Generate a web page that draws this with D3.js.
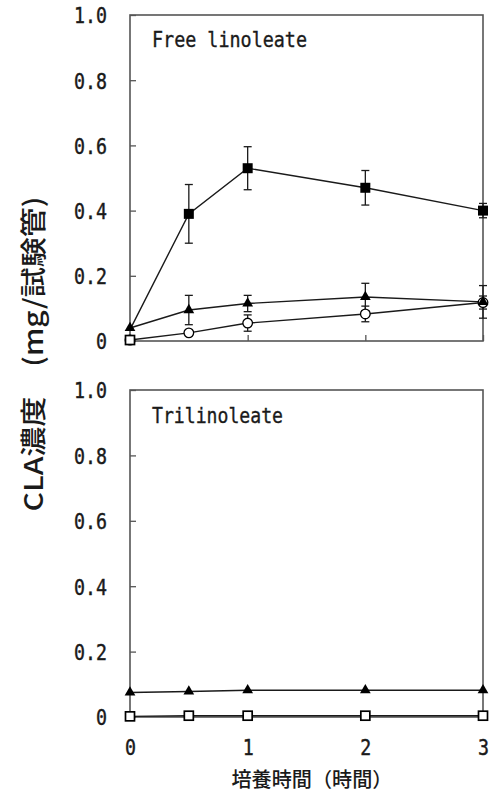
<!DOCTYPE html>
<html><head><meta charset="utf-8">
<script src="https://cdn.jsdelivr.net/npm/d3@7"></script>
<style>html,body{margin:0;padding:0;background:#fff;}svg{display:block;}</style>
</head><body>
<svg id="c" width="492" height="793"></svg>
<script>
// ---- data ----
const times = [0, 0.5, 1, 2, 3];
const xTicks = [0, 1, 2, 3];
const yTicks = [0, 0.2, 0.4, 0.6, 0.8, 1.0];
const yTickLabels = ["0", "0.2", "0.4", "0.6", "0.8", "1.0"];

// Free linoleate panel
const freeSquare = [0.035, 0.39, 0.53, 0.47, 0.40];
const freeSquareErr = [0, 0.09, 0.066, 0.053, 0.022];
const freeSquareMarkerShown = [false, true, true, true, true];
const freeTriangle = [0.04, 0.095, 0.115, 0.135, 0.12];
const freeTriangleErr = [0, 0.045, 0.025, 0.042, 0.05];
const freeCircle = [0.003, 0.025, 0.055, 0.083, 0.118];
const freeCircleErr = [0, 0, 0.025, 0.024, 0.02];
const freeOpenSquareTimes = [0];
const freeOpenSquare = [0.003];

// Trilinoleate panel
const triTriangle = [0.075, 0.078, 0.082, 0.082, 0.082];
const triOpenSquare = [0.002, 0.004, 0.004, 0.004, 0.004];

const panelTitles = ["Free linoleate", "Trilinoleate"];
const yTitle = "CLA濃度\u3000(mg/試験管)";
const xTitle = "培養時間（時間）";

// ---- layout ----
const svg = d3.select("#c");
const x = d3.scaleLinear().domain([0, 3]).range([130, 483]);
const panels = [
  {y: d3.scaleLinear().domain([0, 1]).range([341, 15]), title: panelTitles[0], tx: 152, ty: 47, tl: 155, labels: false},
  {y: d3.scaleLinear().domain([0, 1]).range([717, 390]), title: panelTitles[1], tx: 152, ty: 423, tl: 131, labels: true}
];
const monoFont = "'DejaVu Sans Mono', 'Liberation Mono', monospace";
const cjkFont = "'Noto Sans CJK JP', 'Noto Sans', sans-serif";
const ink = "#1a1a1a";
const frame = "#555";

function styleMono(sel, size, w) {
  sel.attr("font-family", monoFont).attr("font-size", size).attr("fill", ink)
    .attr("stroke", ink).attr("stroke-width", 0.45)
    .attr("textLength", function() { return this.textContent.length ? this.textContent.length * w : null; })
    .attr("lengthAdjust", "spacingAndGlyphs");
}

function drawAxes(p) {
  const g = svg.append("g");
  const ya = g.append("g").attr("transform", `translate(${x.range()[0]},0)`)
    .call(d3.axisLeft(p.y).tickValues(yTicks).tickSizeInner(-6).tickSizeOuter(0).tickPadding(23)
      .tickFormat((d, i) => yTickLabels[i]));
  ya.select(".domain").remove();
  ya.selectAll(".tick line").attr("stroke", frame).attr("stroke-width", 1.3);
  styleMono(ya.selectAll(".tick text").attr("dy", "0.36em"), 22, 11);
  const xa = g.append("g").attr("transform", `translate(0,${p.y.range()[0]})`)
    .call(d3.axisBottom(x).tickValues(xTicks).tickSizeInner(-6).tickSizeOuter(0)
      .tickFormat(p.labels ? d3.format("d") : () => ""));
  xa.select(".domain").remove();
  xa.selectAll(".tick line").attr("stroke", frame).attr("stroke-width", 1.3);
  styleMono(xa.selectAll(".tick text").attr("y", 38).attr("dy", "0"), 22, 11);
  g.append("rect")
    .attr("x", x.range()[0]).attr("y", p.y.range()[1])
    .attr("width", x.range()[1] - x.range()[0])
    .attr("height", p.y.range()[0] - p.y.range()[1])
    .attr("fill", "none").attr("stroke", frame).attr("stroke-width", 1.6);
  svg.append("text").attr("x", p.tx).attr("y", p.ty)
    .attr("font-family", monoFont).attr("font-size", 21).attr("fill", ink)
    .attr("stroke", ink).attr("stroke-width", 0.35)
    .attr("textLength", p.tl).attr("lengthAdjust", "spacingAndGlyphs")
    .text(p.title);
}

function series(ts, vals) { return ts.map((t, i) => ({t, v: vals[i]})); }

function drawLine(p, data) {
  svg.append("path").datum(data)
    .attr("d", d3.line().x(d => x(d.t)).y(d => p.y(d.v)))
    .attr("fill", "none").attr("stroke", ink).attr("stroke-width", 1.4);
}

function drawErr(p, ts, vals, errs) {
  const d = ts.map((t, i) => ({t, v: vals[i], e: errs[i]})).filter(o => o.e > 0);
  const g = svg.append("g").attr("stroke", ink).attr("stroke-width", 1.3);
  g.selectAll("line.v").data(d).join("line").attr("class", "v")
    .attr("x1", o => x(o.t)).attr("x2", o => x(o.t))
    .attr("y1", o => p.y(o.v - o.e)).attr("y2", o => p.y(o.v + o.e));
  [-1, 1].forEach(s => {
    g.selectAll("line.c" + (s > 0 ? "p" : "m")).data(d).join("line").attr("class", "c" + (s > 0 ? "p" : "m"))
      .attr("x1", o => x(o.t) - 4).attr("x2", o => x(o.t) + 4)
      .attr("y1", o => p.y(o.v + s * o.e)).attr("y2", o => p.y(o.v + s * o.e));
  });
}

function drawMarkers(p, data, type) {
  const g = svg.append("g");
  if (type === "fsq") {
    g.selectAll("rect").data(data).join("rect")
      .attr("x", d => x(d.t) - 5).attr("y", d => p.y(d.v) - 5).attr("width", 10).attr("height", 10)
      .attr("fill", "#000");
  } else if (type === "osq") {
    g.selectAll("rect").data(data).join("rect")
      .attr("x", d => x(d.t) - 4.5).attr("y", d => p.y(d.v) - 4.5).attr("width", 9).attr("height", 9)
      .attr("fill", "#fff").attr("stroke", "#000").attr("stroke-width", 1.7);
  } else if (type === "tri") {
    g.selectAll("path").data(data).join("path")
      .attr("d", d3.symbol().type(d3.symbolTriangle).size(50))
      .attr("transform", d => `translate(${x(d.t)},${p.y(d.v)})`)
      .attr("fill", "#000");
  } else if (type === "cir") {
    g.selectAll("circle").data(data).join("circle")
      .attr("cx", d => x(d.t)).attr("cy", d => p.y(d.v)).attr("r", 4.8)
      .attr("fill", "#fff").attr("stroke", "#000").attr("stroke-width", 1.3);
  }
}

// ---- draw ----
panels.forEach(drawAxes);

const P0 = panels[0];
drawLine(P0, series(times, freeSquare));
drawLine(P0, series(times, freeTriangle));
drawLine(P0, series(times, freeCircle));
drawErr(P0, times, freeSquare, freeSquareErr);
drawErr(P0, times, freeTriangle, freeTriangleErr);
drawErr(P0, times, freeCircle, freeCircleErr);
drawMarkers(P0, series(times, freeSquare).filter((d, i) => freeSquareMarkerShown[i]), "fsq");
drawMarkers(P0, series(times, freeCircle), "cir");
drawMarkers(P0, series(times, freeTriangle), "tri");
drawMarkers(P0, series(freeOpenSquareTimes, freeOpenSquare), "osq");

const P1 = panels[1];
drawLine(P1, series(times, triTriangle));
drawLine(P1, series(times, triOpenSquare));
drawMarkers(P1, series(times, triTriangle), "tri");
drawMarkers(P1, series(times, triOpenSquare), "osq");

svg.append("text")
  .attr("transform", "translate(31,354) rotate(-90)")
  .attr("text-anchor", "middle").attr("dominant-baseline", "central")
  .attr("font-family", cjkFont).attr("font-size", 26).attr("font-weight", 500).attr("fill", ink)
  .attr("textLength", 315).attr("lengthAdjust", "spacingAndGlyphs")
  .text(yTitle);
svg.append("text")
  .attr("x", 312).attr("y", 778)
  .attr("text-anchor", "middle").attr("dominant-baseline", "central")
  .attr("font-family", cjkFont).attr("font-size", 20).attr("font-weight", 500).attr("fill", ink)
  .attr("textLength", 161).attr("lengthAdjust", "spacingAndGlyphs")
  .text(xTitle);
</script>
</body></html>
